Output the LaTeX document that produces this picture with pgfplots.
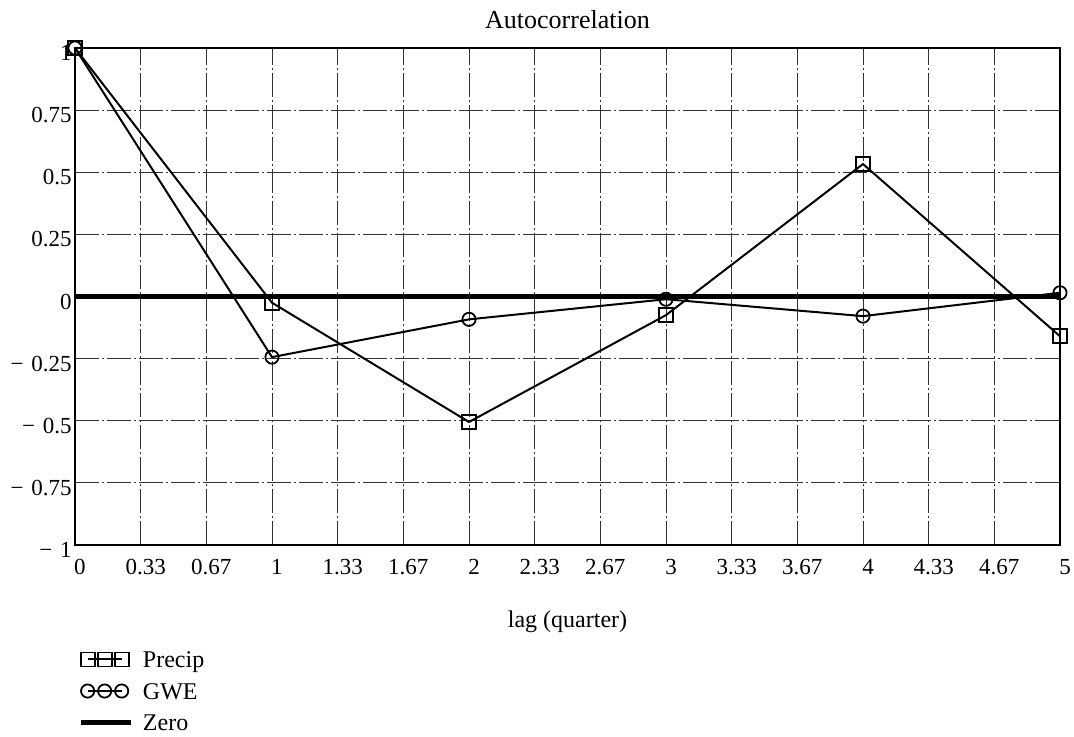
\documentclass[border=0pt]{standalone}
\usepackage{fontspec}
\setmainfont{Liberation Serif}
\usepackage{pgfplots}
\pgfplotsset{compat=1.18}
\pgfplotsset{zerolegend/.style={legend image code/.code={\draw[##1] (0pt,0pt) -- (25pt,0pt);}}}
\begin{document}
\begin{tikzpicture}
\path[use as bounding box] (-37.5pt,-96pt) rectangle (499.5pt,272.5pt);
\begin{axis}[
  at={(0,0)}, anchor=south west,
  scale only axis, width=492.5pt, height=248.5pt,
  xmin=0, xmax=5, ymin=-1, ymax=1,
  xtick={0,0.33333,0.66667,1,1.33333,1.66667,2,2.33333,2.66667,3,3.33333,3.66667,4,4.33333,4.66667,5},
  xticklabels={0,0.33,0.67,1,1.33,1.67,2,2.33,2.67,3,3.33,3.67,4,4.33,4.67,5},
  ytick={-1,-0.75,-0.5,-0.25,0,0.25,0.5,0.75,1},
  yticklabels={−\,\,1,−\,\,0.75,−\,\,0.5,−\,\,0.25,0,0.25,0.5,0.75,1},
  major tick length=0pt,
  grid=major,
  major grid style={black!80, line width=0.4pt, dash pattern=on 12pt off 1.5pt on 1pt off 1.5pt},
  axis line style={line width=1.2pt},
  tick label style={font=\fontsize{11.5}{13}\selectfont},
  xticklabel style={yshift=-3.5pt, xshift=2.5pt},
  yticklabel style={inner xsep=1.5pt, yshift=-2.5pt},
  title={Autocorrelation},
  title style={font=\fontsize{13}{15}\selectfont, yshift=0pt},
  xlabel={lag (quarter)},
  xlabel style={font=\fontsize{12}{14}\selectfont, at={(axis description cs:0.5,0)}, anchor=north, yshift=-29.5pt},
  legend style={draw=none, fill=none, inner sep=0pt, at={(axis description cs:0.003,-0.2133)}, anchor=north west,
    font=\fontsize{12}{14}\selectfont, nodes={inner sep=0pt, text height=8pt, text depth=0pt}, row sep=7.8pt, column sep=5pt},
  legend cell align=left,
  legend image code/.code={\draw[mark repeat=1,mark phase=1,#1] plot coordinates {(3.5pt,0pt) (12pt,0pt) (20.5pt,0pt)};},
  clip=false,
]
\addplot[black, line width=1pt, mark=square, mark size=3.5pt, mark options={solid, line width=0.9pt}]
  coordinates {(0,1) (1,-0.025) (2,-0.505) (3,-0.075) (4,0.533) (5,-0.16)};
\addlegendentry{Precip}
\addplot[black, line width=1pt, mark=o, mark size=3.3pt, mark options={solid, line width=0.9pt}]
  coordinates {(0,1) (1,-0.244) (2,-0.092) (3,-0.011) (4,-0.079) (5,0.015)};
\addlegendentry{GWE}
\addplot[black, line width=2.3pt, mark=none, zerolegend]
  coordinates {(0,0) (5,0)};
\addlegendentry{Zero}
\end{axis}
\end{tikzpicture}
\end{document}
